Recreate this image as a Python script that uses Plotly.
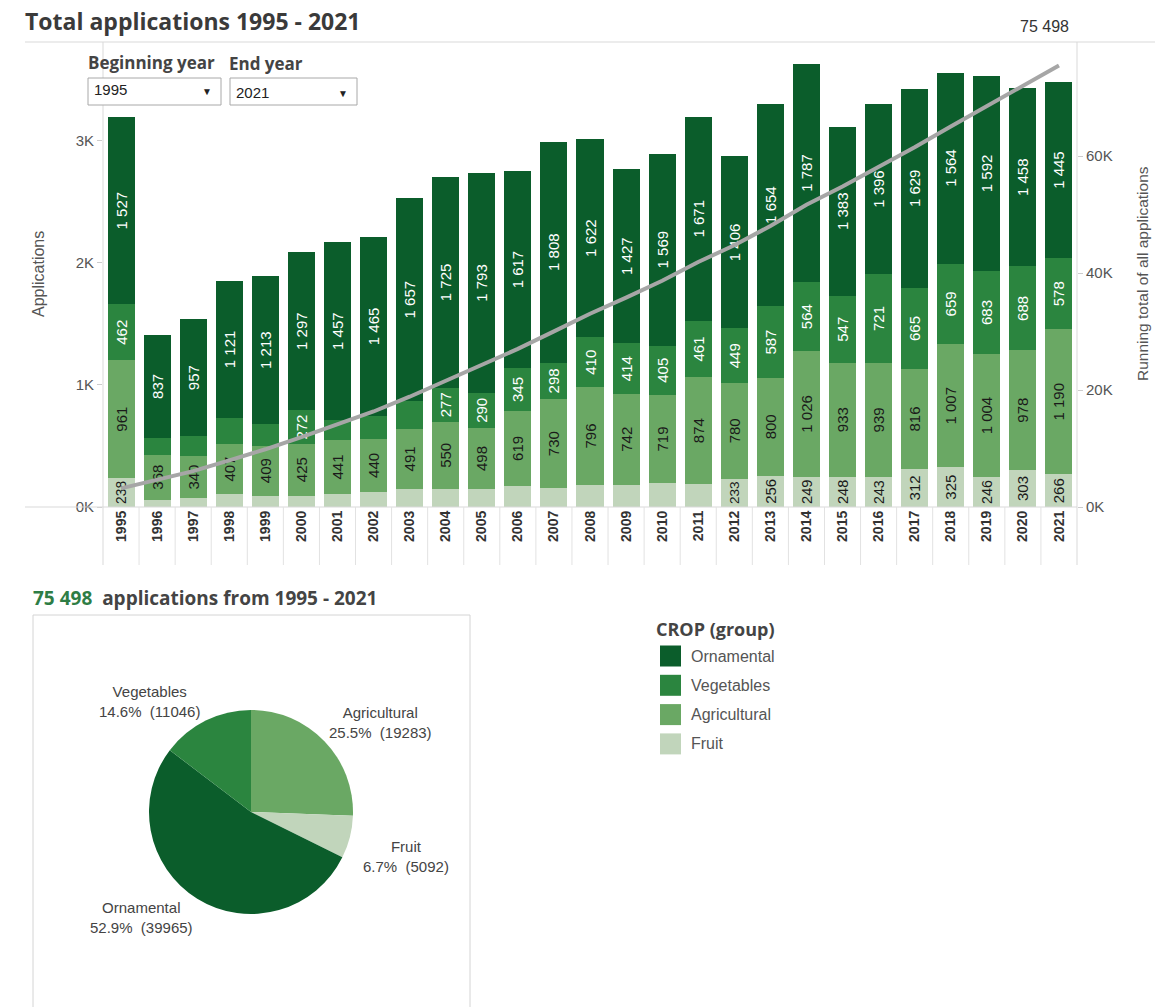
import math
import plotly.graph_objects as go

# ─── data ─────────────────────────────────────────────────────────
years = ["1995", "1996", "1997", "1998", "1999", "2000", "2001", "2002", "2003",
         "2004", "2005", "2006", "2007", "2008", "2009", "2010", "2011", "2012",
         "2013", "2014", "2015", "2016", "2017", "2018", "2019", "2020", "2021"]

ornamental = [1527, 837, 957, 1121, 1213, 1297, 1457, 1465, 1657, 1725, 1793, 1617, 1808, 1622,
              1427, 1569, 1671, 1406, 1654, 1787, 1383, 1396, 1629, 1564, 1592, 1458, 1445]
vegetables = [462, 140, 165, 215, 175, 272, 162, 185, 229, 277, 290, 345, 298, 410,
              414, 405, 461, 449, 587, 564, 547, 721, 665, 659, 683, 688, 578]
agricultural = [961, 368, 340, 407, 409, 425, 441, 440, 491, 550, 498, 619, 730, 796,
                742, 719, 874, 780, 800, 1026, 933, 939, 816, 1007, 1004, 978, 1190]
fruit = [238, 60, 75, 107, 93, 93, 107, 120, 148, 148, 148, 170, 153, 183,
         183, 197, 188, 233, 256, 249, 248, 243, 312, 325, 246, 303, 266]

crop_names = ["Ornamental", "Vegetables", "Agricultural", "Fruit"]
crop_colors = {"Ornamental": "#0b5d2b", "Vegetables": "#2b853f",
               "Agricultural": "#6aa864", "Fruit": "#c1d5bb"}
label_colors = {"Ornamental": "white", "Vegetables": "white",
                "Agricultural": "#1a1a1a", "Fruit": "#1a1a1a"}

# pie (clockwise from 12 o'clock)
pie_labels = ["Agricultural", "Fruit", "Ornamental", "Vegetables"]
pie_values = [19283, 5092, 39965, 11046]

left_ticks = [0, 1000, 2000, 3000]
right_ticks = [0, 20000, 40000, 60000]

W, H = 1155, 1007
YS = 1007 / 999          # page is captured slightly squeezed vertically
HEAD = "Open Sans, Arial, sans-serif"


def fmt(v):
    return f"{v:,}".replace(",", " ")


def px(x):
    return x / W


def py(y):
    return 1 - y * YS / H


series = {"Ornamental": ornamental, "Vegetables": vegetables,
          "Agricultural": agricultural, "Fruit": fruit}

totals = [a + b + c + d for a, b, c, d in zip(ornamental, vegetables, agricultural, fruit)]
running = []
acc = 0
for t in totals:
    acc += t
    running.append(acc)
grand_total = running[-1]

fig = go.Figure()

# ─── stacked bars (bottom to top) ────────────────────────────────
for name in ["Fruit", "Agricultural", "Vegetables", "Ornamental"]:
    vals = series[name]
    fig.add_trace(go.Bar(
        x=years, y=vals, name=name,
        marker=dict(color=crop_colors[name], line=dict(width=0)),
        text=[fmt(v) if v >= 230 else "" for v in vals],
        textposition="inside", insidetextanchor="middle", textangle=-90,
        textfont=dict(color=label_colors[name], size=15),
        showlegend=False,
    ))

# running total line
fig.add_trace(go.Scatter(
    x=years, y=running, yaxis="y2", mode="lines",
    line=dict(color="#a6a6a6", width=4), showlegend=False,
))

# ─── pie ──────────────────────────────────────────────────────────
pie_cx, pie_cy, pie_r = 251, 812, 102
fig.add_trace(go.Pie(
    labels=pie_labels, values=pie_values, sort=False, direction="clockwise", rotation=0,
    marker=dict(colors=[crop_colors[l] for l in pie_labels], line=dict(width=0)),
    textinfo="none",
    domain=dict(x=[px(pie_cx - pie_r), px(pie_cx + pie_r)], y=[py(pie_cy + pie_r), py(pie_cy - pie_r)]),
    showlegend=False, hoverinfo="label+value+percent",
))

# ─── axes ─────────────────────────────────────────────────────────
fig.update_layout(
    width=W, height=H, margin=dict(l=0, r=0, t=0, b=0),
    plot_bgcolor="white", paper_bgcolor="white",
    barmode="stack", bargap=0.25, showlegend=False,
    font=dict(family="Arial, Liberation Sans, sans-serif", size=15, color="#555"),
    xaxis=dict(domain=[px(103), px(1077)], type="category", range=[-0.5, len(years) - 0.5],
               showgrid=False, zeroline=False, showline=False, ticks="", tickangle=-90,
               tickfont=dict(size=14, color="#333", weight="bold")),
    yaxis=dict(domain=[py(507), py(45)], range=[0, 3780], showgrid=False, zeroline=False,
               showline=False, ticks="outside", ticklen=5, tickcolor="#cccccc",
               tickvals=left_ticks, ticktext=[f"{v // 1000}K" for v in left_ticks],
               tickfont=dict(size=15, color="#555")),
    yaxis2=dict(overlaying="y", side="right", anchor="x", range=[0, 79000],
                showgrid=False, zeroline=False, showline=False, ticks="outside", ticklen=5,
                tickcolor="#cccccc", tickvals=right_ticks,
                ticktext=[f"{v // 1000}K" for v in right_ticks],
                tickfont=dict(size=15, color="#555")),
)

shapes = []
line_col = "#d9d9d9"
shapes.append(dict(type="line", xref="paper", yref="paper", x0=px(25), x1=1, y0=py(42), y1=py(42),
                   line=dict(color=line_col, width=1)))
shapes.append(dict(type="line", xref="paper", yref="paper", x0=px(25), x1=px(1077), y0=py(507), y1=py(507),
                   line=dict(color=line_col, width=1)))
for xx in (103, 1077):
    shapes.append(dict(type="line", xref="paper", yref="paper", x0=px(xx), x1=px(xx), y0=py(42), y1=py(565),
                       line=dict(color=line_col, width=1)))
# header separators between year labels
for i in range(1, len(years)):
    shapes.append(dict(type="line", xref="x", yref="paper", x0=i - 0.5, x1=i - 0.5, y0=py(507), y1=py(565),
                       line=dict(color="#e2e2e2", width=1)))
# pie panel border
shapes.append(dict(type="rect", xref="paper", yref="paper", x0=px(33), x1=px(470), y0=py(1010), y1=py(615),
                   line=dict(color="#d4d4d4", width=1)))
# dropdown boxes
for x0, x1 in ((88, 221), (230, 357)):
    shapes.append(dict(type="rect", xref="paper", yref="paper", x0=px(x0), x1=px(x1), y0=py(105), y1=py(78),
                       line=dict(color="#a8a8a8", width=1), fillcolor="white"))

annotations = []


def note(x, y, text, size=15, color="#555", xanchor="left", yanchor="middle", family=None, **kw):
    f = dict(size=size, color=color)
    if family:
        f["family"] = family
    annotations.append(dict(xref="paper", yref="paper", x=px(x), y=py(y), text=text, showarrow=False,
                            xanchor=xanchor, yanchor=yanchor, font=f, **kw))


note(23, 21, f"<b>Total applications {years[0]} - {years[-1]}</b>", size=23, color="#3a3a3a", family=HEAD)
note(86, 62, "<b>Beginning year</b>", size=17, color="#444", family=HEAD)
note(227, 63, "<b>End year</b>", size=17, color="#444", family=HEAD)
note(92, 90, years[0], size=15, color="#222")
note(234, 92, years[-1], size=15, color="#222")
note(207, 91, "▼", size=10, color="#222", xanchor="center")
note(343, 93, "▼", size=10, color="#222", xanchor="center")
note(38, 274, "Applications", size=16, color="#555", xanchor="center", textangle=-90)
note(1142, 274, "Running total of all applications", size=15.5, color="#555", xanchor="center", textangle=-90)
note(31, 598, f"<b><span style='color:#2e7d45'>{fmt(grand_total)}</span>\u00a0 applications from {years[0]} - {years[-1]}</b>",
     size=19, color="#444", family=HEAD)

# running total end label
annotations.append(dict(xref="x", yref="y2", x=len(years) - 1, y=running[-1], text=fmt(grand_total),
                        showarrow=False, xanchor="center", yanchor="bottom", xshift=-14, yshift=28,
                        font=dict(size=16, color="#333")))

# pie labels, placed diagonally off each slice's mid angle
pie_sum = sum(pie_values)
cum = 0
for lab, val in zip(pie_labels, pie_values):
    mid = (cum + val / 2) / pie_sum * 2 * math.pi
    cum += val
    ex = pie_cx + pie_r * math.sin(mid)
    ey = pie_cy - pie_r * math.cos(mid)
    sx = 1 if math.sin(mid) >= 0 else -1
    sy = 1 if -math.cos(mid) >= 0 else -1
    note(ex + sx * 56, ey + sy * 19,
         f"{lab}<br>{val / grand_total * 100:.1f}%\u00a0 ({val})",
         size=15, color="#444", xanchor="center")

# legend
note(654, 629, "<b>CROP (group)</b>", size=18, color="#444", family=HEAD)
for i, name in enumerate(crop_names):
    yc = 656 + i * 29.3
    shapes.append(dict(type="rect", xref="paper", yref="paper", x0=px(660), x1=px(681),
                       y0=py(yc + 10.5), y1=py(yc - 10.5), line=dict(width=0),
                       fillcolor=crop_colors[name]))
    note(689, yc, name, size=16, color="#555")

fig.update_layout(shapes=shapes, annotations=annotations)

css = ("var s=document.createElement('style');"
       "s.innerHTML='html,body{margin:0;padding:0;overflow:hidden;height:1007px;}"
       ".plotly-graph-div{display:block;}';"
       "document.head.appendChild(s);")
fig.write_html("out.html", config={"responsive": False, "displayModeBar": False}, post_script=css)
